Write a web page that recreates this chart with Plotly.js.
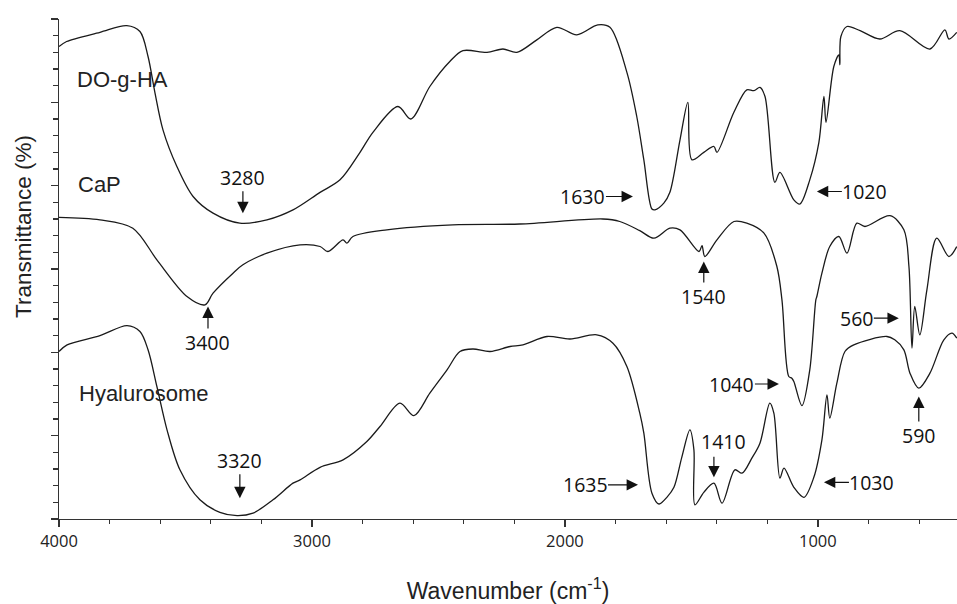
<!DOCTYPE html>
<html>
<head>
<meta charset="utf-8">
<script src="https://cdn.plot.ly/plotly-3.0.1.min.js"></script>
<style>html,body{margin:0;padding:0;background:#fff;}#chart{width:957px;height:604px;}</style>
</head>
<body>
<div id="chart"></div>
<script>
// ---- Data (wavenumber in cm-1, transmittance in arbitrary offset units) ----
var doWave = [4000,3970,3838,3732,3680,3648,3621,3589,3534,3470,3391,3285,3178,3075,2968,2889,2810,2759,2660,2609,2534,2455,2403,2308,2245,2190,2111,2032,1953,1870,1822,1755,1716,1688,1656,1644,1609,1585,1545,1514,1498,1451,1411,1399,1332,1281,1253,1229,1209,1170,1150,1095,1071,1032,996,976,968,937,917,913,909,885,833,755,676,557,498,482,451];
var doT    = [56.7,57.3,58.4,59.2,58.5,55.5,51.2,46.7,42.3,38.7,36.7,35.5,35.9,37.1,39.2,40.7,44.0,46.4,49.5,48.0,51.9,54.9,56.2,56.0,56.4,56.0,57.5,59.0,58.1,59.3,59.0,53.6,48.3,43.1,37.2,37.1,37.9,39.2,45.5,50.0,43.1,44.0,44.7,44.0,48.8,51.5,51.4,51.8,50.7,40.4,41.6,38.3,37.8,40.7,45.2,50.7,47.6,54.3,55.7,54.5,57.9,59.1,58.6,57.6,58.6,56.4,58.7,57.6,58.4];

var capWave = [4000,3838,3708,3613,3494,3423,3391,3312,3273,3178,3047,2968,2937,2877,2862,2838,2704,2443,2178,1850,1783,1704,1648,1585,1545,1470,1458,1447,1399,1332,1281,1213,1162,1142,1115,1103,1095,1063,1032,1008,1004,984,953,917,885,846,814,715,660,640,628,617,597,569,530,482,451];
var capT    = [36.2,35.9,34.9,31.1,26.7,25.7,27.1,29.5,30.5,31.9,32.9,32.7,32.1,33.5,33.1,33.9,34.7,35.3,35.4,36.0,35.7,34.6,33.7,34.9,34.7,32.1,32.8,31.5,33.5,35.7,35.5,34.3,30.3,26.3,17.1,16.9,16.5,13.6,17.9,26.3,26.7,29.5,32.7,33.9,31.9,35.5,35.1,36.4,34.7,30.3,20.5,25.5,22.1,27.5,33.7,31.5,32.7];

var hyaWave = [4000,3968,3838,3731,3680,3648,3613,3573,3522,3443,3364,3296,3233,3154,3075,3047,2968,2877,2783,2731,2652,2597,2534,2466,2415,2364,2296,2217,2166,2071,1980,1874,1810,1755,1704,1688,1656,1628,1597,1569,1538,1506,1490,1486,1451,1411,1379,1328,1300,1261,1229,1190,1174,1150,1134,1095,1055,1016,984,964,953,925,893,858,727,696,660,636,601,557,502,470,451];
var hyaT    = [20.1,20.9,22.0,23.2,22.5,20.3,15.9,10.7,5.9,2.3,0.8,0.4,0.7,2.3,4.3,4.7,6.2,7.1,9.3,11.1,13.9,12.4,15.1,17.9,20.1,20.4,20.1,20.7,20.9,21.9,21.6,22.1,21.1,18.3,12.7,10.3,3.1,1.8,2.6,3.8,7.4,10.7,8.3,1.7,3.2,4.3,1.9,5.9,5.5,7.3,9.1,13.9,12.7,4.9,6.1,3.8,2.6,5.0,9.5,14.9,12.1,16.3,20.1,20.9,21.9,21.5,20.3,17.5,15.7,17.5,21.5,22.3,21.7];

var seriesNames = ["DO-g-HA", "CaP", "Hyalurosome"];
var xTickVals   = [4000, 3000, 2000, 1000];
var xTickText   = ["4000", "3000", "2000", "1000"];

// peak labels: text, arrow head wavenumber, arrow head transmittance
var peakText = ["3280","3400","3320","1630","1635","1540","1020","1040","560","590","1410","1030"];
var peakX    = [3273, 3411, 3285, 1731, 1711, 1451, 1004, 1154, 680, 601, 1411, 976];
var peakY    = [36.7, 25.5, 2.5, 38.7, 4.1, 30.9, 39.3, 16.2, 24.1, 14.7, 5.0, 4.4];

// ---- layout helpers (pixel offsets of the label from arrow head) ----
var peakAx = [0, 0, 0, -50, -53, 0, 48, -47, -42, 0, 0, 48];
var peakAy = [-36, 36, -38, 0, 0, 35, 0, 0, 0, 39, -36, 0];
var peakTextShift = [0, 0, 0, 0, 0, 0, 0, 0, 0, 0, 10, 0];

var lineStyle = {color: "#1a1a1a", width: 1.3, shape: "spline", smoothing: 0.9};
var traces = [
  {x: doWave, y: doT, name: seriesNames[0]},
  {x: capWave, y: capT, name: seriesNames[1]},
  {x: hyaWave, y: hyaT, name: seriesNames[2]}
].map(function(t){ t.type = "scatter"; t.mode = "lines"; t.line = lineStyle; t.hoverinfo = "skip"; return t; });

var numFont = {family: "Open Sans, Noto Sans, sans-serif", size: 19.5, color: "#111"};
var arrowStyle = {arrowhead: 2, arrowsize: 1.9, arrowwidth: 1.2, arrowcolor: "#111", standoff: 0};
var annotations = [];
peakText.forEach(function(t, i){
  var a;
  if (peakTextShift[i] === 0) {
    a = {x: peakX[i], y: peakY[i], xref: "x", yref: "y", text: t, showarrow: true,
         ax: peakAx[i], ay: peakAy[i], font: numFont, borderpad: 0};
    Object.assign(a, arrowStyle);
    annotations.push(a);
  } else {
    // arrow and label drawn separately (label offset sideways from a vertical arrow)
    a = {x: peakX[i], y: peakY[i], xref: "x", yref: "y", text: "", showarrow: true,
         ax: 0, ay: peakAy[i] + 14};
    Object.assign(a, arrowStyle);
    annotations.push(a);
    annotations.push({x: peakX[i], y: peakY[i], xref: "x", yref: "y", text: t, showarrow: false,
          xshift: peakTextShift[i], yshift: -peakAy[i], font: numFont, borderpad: 0});
  }
});
var nameFont = {family: "Liberation Sans, Arial, sans-serif", size: 22, color: "#222"};
var nameX = [3937, 3933, 3929];
var nameY = [52.7, 40.1, 15.1];
seriesNames.forEach(function(n, i){
  annotations.push({x: nameX[i], y: nameY[i], xref: "x", yref: "y", text: n, showarrow: false,
                    xanchor: "left", yanchor: "middle", font: nameFont});
});
annotations.push({x: (23 - 59) / 898, y: (519 - 227) / 500, xref: "paper", yref: "paper",
  text: "Transmittance (%)", showarrow: false, textangle: -90, xanchor: "center", yanchor: "middle",
  font: {family: "Liberation Sans, Arial, sans-serif", size: 22.5, color: "#222"}});

var layout = {
  width: 957, height: 604,
  margin: {l: 59, r: 0, t: 19, b: 85},
  paper_bgcolor: "#fff", plot_bgcolor: "#fff",
  showlegend: false,
  xaxis: {
    range: [4000, 450], autorange: false,
    showgrid: false, zeroline: false,
    showline: true, linecolor: "#333", linewidth: 1.3,
    ticks: "outside", ticklen: 7, tickwidth: 1.3, tickcolor: "#333",
    tickvals: xTickVals, ticktext: xTickText,
    tickfont: {family: "Open Sans, Noto Sans, sans-serif", size: 16.5, color: "#222"},
    minor: {dtick: 200, tick0: 0, ticks: "outside", ticklen: 4, tickwidth: 1.1, tickcolor: "#333", showgrid: false},
    title: {text: "Wavenumber (cm<sup>-1</sup>)", standoff: 35,
            font: {family: "Liberation Sans, Arial, sans-serif", size: 23, color: "#222"}}
  },
  yaxis: {
    range: [0, 60], autorange: false,
    showgrid: false, zeroline: false,
    showline: true, linecolor: "#333", linewidth: 1.3,
    ticks: "outside", ticklen: 7, tickwidth: 1.3, tickcolor: "#333",
    dtick: 10, tick0: 0, showticklabels: false,
    minor: {dtick: 2, ticks: "outside", ticklen: 5, tickwidth: 1.1, tickcolor: "#333", showgrid: false}
  },
  annotations: annotations
};

Plotly.newPlot("chart", traces, layout, {staticPlot: true, displayModeBar: false});
</script>
</body>
</html>
